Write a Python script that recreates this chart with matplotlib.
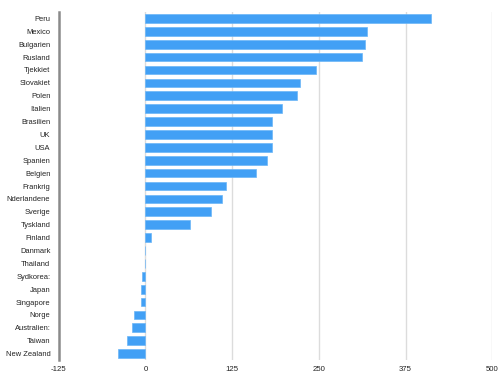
import matplotlib
matplotlib.use("Agg")
import matplotlib.pyplot as plt

categories = ["Peru", "Mexico", "Bulgarien", "Rusland", "Tjekkiet", "Slovakiet", "Polen",
              "Italien", "Brasilien", "UK", "USA", "Spanien", "Belgien", "Frankrig",
              "Nderlandene", "Sverige", "Tyskland", "Finland", "Danmark", "Thailand",
              "Sydkorea:", "Japan", "Singapore", "Norge", "Australien:", "Taiwan", "New Zealand"]
values = [411, 320, 317, 312, 246, 223, 218, 197, 182, 182, 182, 175, 160, 116,
          111, 95, 64, 8, -1, -1, -5, -7, -7, -17, -20, -26, -40]
xticks = [-125, 0, 125, 250, 375, 500]

plt.rcParams['font.family'] = ['Liberation Sans', 'DejaVu Sans']

fig = plt.figure(figsize=(5, 3.83), dpi=100)
ax = fig.add_axes([0.1174, 0.06, 0.8672, 0.9087])

y = list(range(len(categories)))
ax.barh(y, values, height=0.68, color='#42a0f5', edgecolor='#6cb6f7', linewidth=0.5, zorder=3)

ax.set_ylim(len(categories) - 0.5, -0.5)
ax.set_xlim(-125, 500)
ax.set_xticks(xticks)
ax.set_xticklabels([str(t) for t in xticks])
ax.set_yticks(y)
ax.set_yticklabels(categories)

for t in xticks[1:]:
    ax.axvline(t, color='#dcdcdc', linewidth=1, zorder=1)

for s in ['top', 'right', 'bottom']:
    ax.spines[s].set_visible(False)
ax.spines['left'].set_color('#8a8a8a')
ax.spines['left'].set_linewidth(1.8)

ax.tick_params(axis='y', length=0, pad=6, labelsize=5.4, labelcolor='#222222')
ax.tick_params(axis='x', length=0, pad=4, labelsize=5.6, labelcolor='#222222')

fig.savefig("out.png", dpi=100)
